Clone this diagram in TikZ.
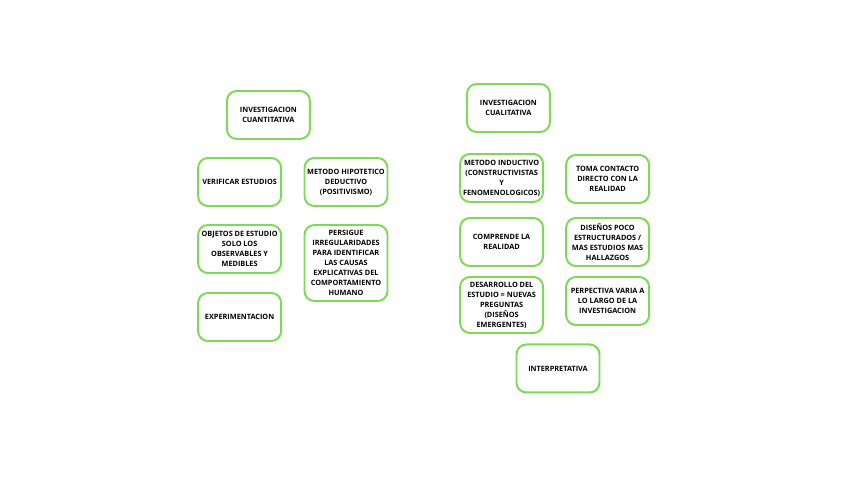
\documentclass[tikz,border=0pt]{standalone}
\usepackage{fontspec}
\setmainfont{Open Sans}
\usepackage{tikz}
\usetikzlibrary{positioning}
\definecolor{verde}{HTML}{7ED957}

\begin{document}
\begin{tikzpicture}[
        caja/.style={rectangle, draw=verde, fill=white, line width=1.4pt, minimum width=2.075cm, minimum height=1.2cm, align=center, rounded corners=7pt, inner xsep=1pt, inner ysep=2pt, font=\fontsize{5.2}{7.1}\selectfont\bfseries}
    ]
    \useasboundingbox[fill=white] (0,0) rectangle (21.2,11.925);

    % Investigacion cuantitativa
    \node[caja] (IC) at (6.71, 9.05) {INVESTIGACION\\CUANTITATIVA};
    \node[caja] (VE) at (5.99, 7.375) {VERIFICAR ESTUDIOS};
    \node[caja] (MH) at (8.65, 7.375) {METODO HIPOTETICO\\DEDUCTIVO\\(POSITIVISMO)};
    \node[caja] (OE) at (5.99, 5.7) {OBJETOS DE ESTUDIO\\SOLO LOS\\OBSERVABLES Y\\MEDIBLES};
    \node[caja, minimum height=1.9cm] (PI) at (8.65, 5.35) {PERSIGUE\\IRREGULARIDADES\\PARA IDENTIFICAR\\LAS CAUSAS\\EXPLICATIVAS DEL\\COMPORTAMIENTO\\HUMANO};
    \node[caja] (EX) at (5.99, 4.0) {EXPERIMENTACION};

    % Investigacion cualitativa
    \node[caja] (IQ) at (12.71, 9.225) {INVESTIGACION\\CUALITATIVA};
    \node[caja] (MI) at (12.54, 7.475) {METODO INDUCTIVO\\(CONSTRUCTIVISTAS\\Y\\FENOMENOLOGICOS)};
    \node[caja] (TC) at (15.19, 7.45) {TOMA CONTACTO\\DIRECTO CON LA\\REALIDAD};
    \node[caja] (CR) at (12.54, 5.875) {COMPRENDE LA\\REALIDAD};
    \node[caja] (DP) at (15.19, 5.875) {DISEÑOS POCO\\ESTRUCTURADOS /\\MAS ESTUDIOS MAS\\HALLAZGOS};
    \node[caja, minimum height=1.4cm] (DE) at (12.54, 4.3) {DESARROLLO DEL\\ESTUDIO = NUEVAS\\PREGUNTAS\\(DISEÑOS\\EMERGENTES)};
    \node[caja] (PV) at (15.19, 4.4) {PERPECTIVA VARIA A\\LO LARGO DE LA\\INVESTIGACION};
    \node[caja] (IN) at (13.95, 2.713) {INTERPRETATIVA};
\end{tikzpicture}
\end{document}
